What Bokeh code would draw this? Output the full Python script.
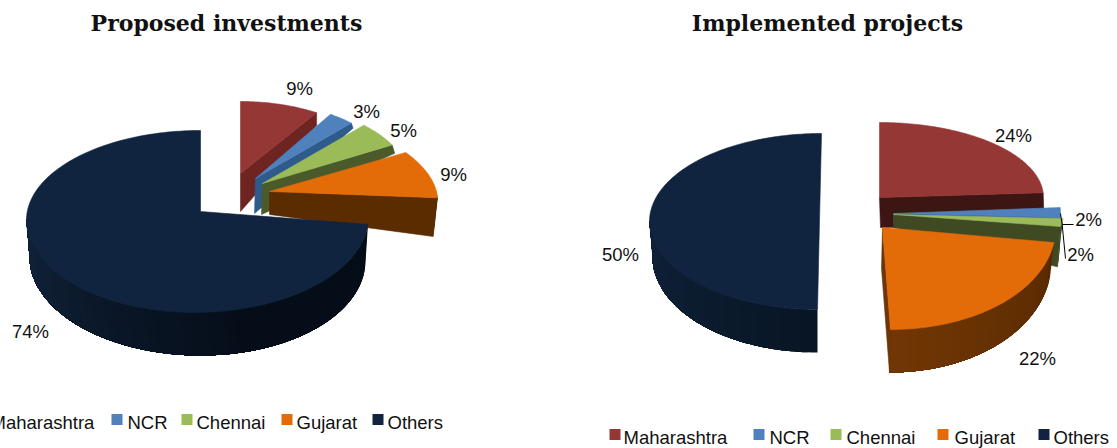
import math
from bokeh.plotting import figure
from bokeh.core.properties import value
from bokeh.embed import file_html
from bokeh.resources import INLINE
from bokeh.models import Range1d

categories = ["Maharashtra", "NCR", "Chennai", "Gujarat", "Others"]
proposed = [9, 3, 5, 9, 74]
implemented = [24, 2, 2, 22, 50]
titles = ["Proposed investments", "Implemented projects"]
colors = ["#953735", "#4f81bd", "#9bbb59", "#e36c09", "#10243f"]

W, H = 1117, 448
# projection: apex x,y  centre x,y  rx  ry-back  ry-front  skew
LEFT = dict(
    order=[0, 1, 2, 3, 4],
    top=[(240,173,240,173,142,72,72,0), (255,178,255,178,140,76,76,0),
         (262,183,262,183,148,80,80,0), (269,191,269,191,167,81,100,-21),
         (200,211,197,218,171,88,94,3)],
    bot=[(240,211,240,211,142,102,102,0), (254,213,254,213,144,117,117,0),
         (261,214,261,214,152,127,127,0), (269,214,269,214,164,100,350,0),
         (197,258,197,258,168,90,97,-3)],
    face=["#6e2522", "#2f5a8c", "#4a5a2b", "#5b2c00", None],
    wall=[("#6e2522",)*2, ("#2f5a8c",)*2, ("#4a5a2b",)*2, ("#5b2c00",)*2, ("#11243d", "#050d18")],
    labels=[(299,88), (366,111), (403,130), (453,174), (30,331)],
)
RIGHT = dict(
    order=[4, 0, 1, 2, 3],
    top=[(879,197,879,197,164,75,75,0), (893,213,893,213,167,95,63,0),
         (893,214,893,214,170,64,64,0), (882,227,882,222,173,80,107,-8),
         (819,220,819,220,170,87,89,2)],
    bot=[(880,227,880,227,164,32,32,0), (893,222,893,222,167,60,60,0),
         (893,227,893,227,167,210,210,0), (881,268,881,255,170,80,117,-8),
         (819,255,819,255,167,80,97,2)],
    face=["#3d1513", "#2f5a8c", "#3f4a23", "#6e3505", None],
    wall=[("#3d1513",)*2, ("#2f5a8c",)*2, ("#3f4a23",)*2, ("#723705", "#582a00"), ("#10233b", "#06121f")],
    labels=[(1013,135), (1088,219), (1080,254), (1037,358), (620,254)],
)
LEG_Y = [422, 437]
LEG_SQ = [[-26,111,181,281,372], [609,753,830,937,1038]]
LEG_TX = [[-10,127,196,296,387], [623,769,846,954,1053]]


def pt(theta, g):
    th = math.radians(theta)
    c, s = math.cos(th), math.sin(th)
    return (g[2] + g[4]*s + g[7]*c, g[3] - (g[5] if c > 0 else g[6])*c)


def mix(a, b, t):
    ca = [int(a[i:i+2], 16) for i in (1, 3, 5)]
    cb = [int(b[i:i+2], 16) for i in (1, 3, 5)]
    return "#%02x%02x%02x" % tuple(round(x + (y-x)*t) for x, y in zip(ca, cb))


p = figure(width=W, height=H, output_backend="svg", toolbar_location=None,
           x_range=Range1d(0, W), y_range=Range1d(H, 0), min_border=0,
           outline_line_color=None, background_fill_color="white")
p.xaxis.visible = False
p.yaxis.visible = False
p.grid.visible = False


def poly(xy, col, lw=0.6):
    p.patch([a for a, _ in xy], [b for _, b in xy], fill_color=col, line_color=col, line_width=lw)


def draw(vals, cfg):
    total = sum(vals)
    start, angs = 0.0, []
    for v in vals:
        angs.append((start, start + 360*v/total))
        start += 360*v/total
    for i in cfg["order"]:
        a, b = angs[i]
        top, bot = cfg["top"][i], cfg["bot"][i]
        # outer wall, front half only; each strip runs on to the wall's far end so no seams show
        lo, hi = max(a, 90), min(b, 270)
        if hi > lo:
            n = max(2, int((hi-lo)/3))
            for k in range(n):
                t0 = lo+(hi-lo)*k/n
                f = (270-t0)/(270-90) if i == 4 else k/n
                if i == 4:
                    col = mix(cfg["wall"][i][0], cfg["wall"][i][1], min(1, f/0.6))
                else:
                    col = mix(cfg["wall"][i][1], cfg["wall"][i][0], f)
                m = max(2, int(hi-t0))
                ts = [t0+(hi-t0)*q/m for q in range(m+1)]
                poly([pt(t, top) for t in ts] + [pt(t, bot) for t in reversed(ts)], col, 0)
        # cut face
        if cfg["face"][i]:
            poly([(top[0], top[1]), pt(b, top), pt(b, bot), (bot[0], bot[1])], cfg["face"][i])
        # top surface
        n = max(8, int(b-a))
        arc = [pt(a+(b-a)*k/n, top) for k in range(n+1)]
        poly([(top[0], top[1])] + arc, colors[i])
    return angs


a_l = draw(proposed, LEFT)
a_r = draw(implemented, RIGHT)

# leader lines of the two small slices on the right
ncr = pt(sum(a_r[1])/2, RIGHT["top"][1])
chn = pt(sum(a_r[2])/2, RIGHT["top"][2])
lab1, lab2 = RIGHT["labels"][1], RIGHT["labels"][2]
p.line([ncr[0], chn[0], lab1[0]-15], [ncr[1], lab1[1]+5, lab1[1]+5], line_color="black", line_width=1)
p.line([chn[0], lab2[0]-15], [lab1[1]+5, lab2[1]+4], line_color="black", line_width=1)

FONT = value("Liberation Sans")
for vals, cfg in ((proposed, LEFT), (implemented, RIGHT)):
    p.text([q[0] for q in cfg["labels"]], [q[1] for q in cfg["labels"]], text=[f"{v}%" for v in vals],
           text_font=FONT, text_font_size="18.5px", text_align="center", text_baseline="middle", text_color="#111111")

for k in range(2):
    y = LEG_Y[k]
    p.rect(x=[x+5.5 for x in LEG_SQ[k]], y=[y-3]*5, width=11, height=11, fill_color=colors, line_color=None)
    p.text(LEG_TX[k], [y]*5, text=categories, text_font=FONT, text_font_size="18.5px",
           text_align="left", text_baseline="middle", text_color="#111111")

p.text([226, 827], [22, 22], text=titles, text_font=value("DejaVu Serif"), text_font_size="22px",
       text_font_style="bold", text_align="center", text_baseline="middle", text_color="#111111")

open("out.html", "w").write(file_html(p, INLINE))
